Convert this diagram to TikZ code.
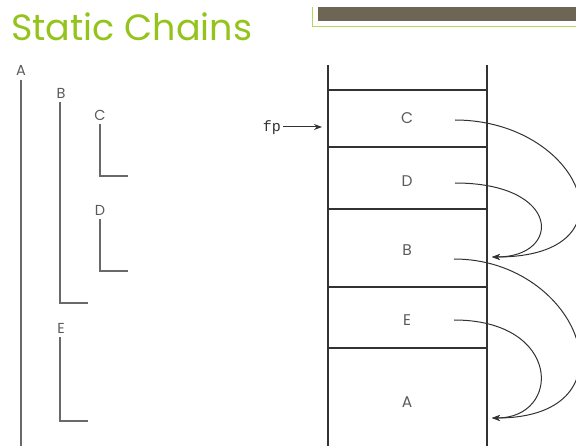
\documentclass[tikz,border=0pt]{standalone}
\usepackage{fontspec}
\setmainfont{Poppins}
\newfontfamily\labfont{Poppins}
\newfontfamily\monofont{Liberation Mono}
\usetikzlibrary{arrows.meta}
\definecolor{titlegreen}{RGB}{148,196,28}
\definecolor{bargray}{RGB}{110,101,85}
\definecolor{treegray}{RGB}{105,105,105}
\definecolor{stackgray}{RGB}{50,50,50}
\definecolor{labgray}{RGB}{90,90,90}
\begin{document}
\begin{tikzpicture}[x=1pt,y=-1pt,
  treeline/.style={draw=treegray,line width=1.3pt},
  stackline/.style={draw=stackgray,line width=1.3pt},
  treelab/.style={font=\labfont\fontsize{14.5}{14.5}\selectfont,text=labgray,inner sep=0pt},
  stacklab/.style={font=\labfont\fontsize{15.5}{15.5}\selectfont,text=labgray,inner sep=0pt},
  link/.style={draw=stackgray,line width=1pt,-{Stealth[length=8pt,width=6pt]}}]
\useasboundingbox (0,0) rectangle (576,446);
% title
\node[anchor=base west,inner sep=0pt,text=titlegreen,font=\fontsize{36.5}{36.5}\selectfont] (title) at (11,41) {Static Chains};
% top bar
\draw[titlegreen!70,line width=0.8pt] (312,7) -- (312,26) -- (576,26);
\fill[bargray] (318,7) rectangle (576,21);
% left tree
\node[treelab] (tA) at (21,70) {A};
\node[treelab] (tB) at (61,93) {B};
\node[treelab] (tC) at (100,115) {C};
\node[treelab] (tD) at (100,210) {D};
\node[treelab] (tE) at (61,328) {E};
\coordinate (aBot) at (21,446);
\coordinate (bEnd) at (88,303);
\coordinate (cEnd) at (128,176);
\coordinate (dEnd) at (128,271);
\coordinate (eEnd) at (88,421);
\draw[treeline] (21,80) -- (aBot);
\draw[treeline] (60,102) |- (bEnd);
\draw[treeline] (100,124) |- (cEnd);
\draw[treeline] (100,219) |- (dEnd);
\draw[treeline] (60,337) |- (eEnd);
% stack
\draw[stackline] (328,65) -- (328,446);
\draw[stackline] (487,65) -- (487,446);
\foreach \yy in {90,147,209,287,348} \draw[stackline] (328,\yy) -- (487,\yy);
\node[stacklab] (sC) at (407,118) {C};
\node[stacklab] (sD) at (407,181) {D};
\node[stacklab] (sB) at (407,250) {B};
\node[stacklab] (sE) at (407,320) {E};
\node[stacklab] (sA) at (407,402) {A};
% fp
\node[anchor=east,inner sep=0pt,font=\monofont\fontsize{15}{15}\selectfont,text=stackgray] (fp) at (281,128) {fp};
\coordinate (fpTip) at (322,127);
\draw[draw=stackgray,line width=1pt,-{Stealth[length=8pt,width=6pt]}] (fp.east) ++(2,-1) -- (fpTip);
% static links
\coordinate (cS) at (455,120);
\coordinate (dS) at (455,183);
\coordinate (bS) at (454,259);
\coordinate (eS) at (454,320);
\coordinate (bT) at (492,257);
\coordinate (aT) at (492,418);
\draw[link] (cS) .. controls (580,120) and (640,257) .. (bT);
\draw[link] (dS) .. controls (562,183) and (562,257) .. (bT);
\draw[link] (bS) .. controls (580,259) and (640,418) .. (aT);
\draw[link] (eS) .. controls (562,320) and (562,418) .. (aT);
\end{tikzpicture}
\end{document}
